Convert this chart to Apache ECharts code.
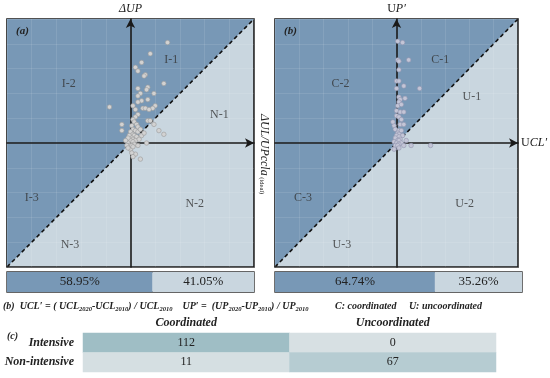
<!DOCTYPE html>
<html><head><meta charset="utf-8">
<script src="https://cdn.jsdelivr.net/npm/echarts@6/dist/echarts.min.js"></script>
<style>html,body{margin:0;padding:0;background:#fff}#c{width:550px;height:378px}</style>
</head><body><div id="c"></div>
<script>
// ---- data ----
const pointsA = [
 [30,81],[16,72],[9,65],[4,61],[6,58],[12,55],[11,54],[27,48],[14,45],[13,43],[6,44],[19,40],[8,40],[6,38],
 [14,35],[9,34],[6,33],[-17,29],[20,30],[18,28],[10,28],[12,28],[15,27],[4,27],[2,30],[6,23],[4,21],[14,18],
 [16,18],[19,15],[-7,15],[-7,10],[23,10],[27,7],[13,0],[4,-9],[8,-13],[0,-5],[1,-8],[2,-11],
 [2,19],[3,17],[5,15],[1,14],[6,13],[2,11],[4,10],[0,9],[6,9],[2,7],[3,6],[-1,6],[5,5],[1,4],[2,3],[-2,2],
 [4,2],[0,2],[2,1],[-2,0],[3,-1],[-1,-2],[1,-2],[-3,-2],[2,-3],[-2,-4],[6,-2],[7,3],[9,6],[11,8],[8,11],[-2,4],[-4,2]
];
const pointsB = [
 [1,82],[5,81],[1,67],[2,66],[10,67],[2,59],[0,50],[2,50],[6,46],[19,44],[0,44],[2,37],[3,35],[7,36],[2,33],
 [1,30],[4,31],[0,26],[3,25],[6,25],[0,22],[2,21],[4,19],[-2,14],[3,15],[6,15],[-3,17],
 [-1,11],[2,10],[4,10],[1,8],[2,7],[0,6],[5,6],[2,5],[-1,4],[3,3],[1,2],[2,2],[-2,1],[0,0],[4,0],[2,-1],
 [-1,-2],[1,-2],[6,-2],[-2,-5],[2,-4],[12,-2],[28,-2],[8,2]
];
const regionLabelsA = [['I-1',33,67],['I-2',-50,48],['I-3',-80,-44],['N-1',72,23],['N-2',52,-49],['N-3',-49,-82]];
const regionLabelsB = [['C-1',36,67],['C-2',-46,48],['C-3',-77,-44],['U-1',62,37],['U-2',56,-49],['U-3',-45,-82]];
const shareA = [58.95, 41.05];
const shareB = [64.74, 35.26];
const rowCats = ['Intensive','Non-intensive'];
const colCats = ['Coordinated','Uncoordinated'];
const tableValues = [[112, 0],[11, 67]];
const diagonal = [[-100,-100],[100,100]];

// ---- styles ----
const SERIF = 'Liberation Serif';
const DARK = '#7898b6', LIGHT = '#c9d6df';
const cellColors = {112:'#9fbec5', 0:'#d7e0e3', 11:'#d5dfe2', 67:'#b6ccd2'};

function scatterAxes(gi){
  return {gridIndex:gi, type:'value', min:-100, max:100, interval:20, z:5,
    axisTick:{show:false}, axisLabel:{show:false},
    splitLine:{show:true, lineStyle:{color:'rgba(255,255,255,0.10)', width:1}}};
}
const axLine = {show:true, onZero:true, symbol:['none','arrow'], symbolSize:[7,9], lineStyle:{color:'#1a1a1a', width:1.6}};
const richNI = {n:{fontFamily:SERIF,fontSize:12,color:'#222'}, i:{fontFamily:SERIF,fontSize:12,fontStyle:'italic',color:'#222'}};
const xA = Object.assign(scatterAxes(0), {axisLine:axLine});
const yA = Object.assign(scatterAxes(0), {
  name:'ΔUP', nameLocation:'end', nameGap:4,
  nameTextStyle:{fontFamily:SERIF, fontStyle:'italic', fontSize:12, color:'#222', align:'center'},
  axisLine:axLine
});
const xB = Object.assign(scatterAxes(1), {
  name:'{n|U}{i|CL′}', nameLocation:'end', nameGap:3,
  nameTextStyle:{fontFamily:SERIF, fontSize:12, color:'#222', rich:richNI},
  axisLine:axLine
});
const yB = Object.assign(scatterAxes(1), {
  name:'{n|U}{i|P′}', nameLocation:'end', nameGap:4,
  nameTextStyle:{fontFamily:SERIF, fontSize:12, color:'#222', align:'center', rich:richNI},
  axisLine:axLine
});

function areaSeries(xi){
  return {type:'line', xAxisIndex:xi, yAxisIndex:xi, data:diagonal, symbol:'none', z:1, silent:true,
    lineStyle:{color:'#111', width:1.6, type:[4,3]},
    areaStyle:{color:DARK, opacity:1, origin:'end'}};
}
function labelSeries(xi, arr){
  return {type:'scatter', xAxisIndex:xi, yAxisIndex:xi, symbolSize:0, z:6, silent:true,
    data:arr.map(d=>({name:d[0], value:[d[1], d[2]]})),
    label:{show:true, position:'inside', formatter:'{b}', fontFamily:SERIF, fontSize:12, color:'#333'}};
}
function pointSeries(xi, arr, col, bor){
  return {type:'scatter', xAxisIndex:xi, yAxisIndex:xi, data:arr, symbolSize:4.5, z:10,
    itemStyle:{color:col, borderColor:bor, borderWidth:0.6, opacity:1}};
}
function barAxes(gi){
  return [{gridIndex:gi, type:'value', min:0, max:100, show:false},
          {gridIndex:gi, type:'category', data:['share'], show:false}];
}
function barSeries(xi, vals){
  const lab = {show:true, position:'inside', formatter:'{c}%', fontFamily:SERIF, fontSize:13, color:'#222'};
  return [
    {type:'bar', xAxisIndex:xi, yAxisIndex:xi, stack:'s'+xi, barWidth:'100%', data:[vals[0]], itemStyle:{color:DARK}, label:lab, silent:true},
    {type:'bar', xAxisIndex:xi, yAxisIndex:xi, stack:'s'+xi, barWidth:'100%', data:[vals[1]], itemStyle:{color:LIGHT}, label:lab, silent:true}
  ];
}
const ba = barAxes(2), bb = barAxes(3);
const heatData = [];
for (let r=0;r<rowCats.length;r++) for (let c=0;c<colCats.length;c++) heatData.push([c, r, tableValues[r][c]]);

const boldIt = {fontFamily:SERIF, fontWeight:'bold', fontStyle:'italic', fontSize:12, color:'#222'};

const option = {
  animation:false,
  backgroundColor:'#fff',
  grid:[
    {left:7, top:19, width:247, height:248, show:true, backgroundColor:LIGHT, borderColor:'#1a1a1a', borderWidth:1.6},
    {left:275, top:19, width:247, height:248, show:true, backgroundColor:LIGHT, borderColor:'#1a1a1a', borderWidth:1.6},
    {left:7, top:272, width:247, height:20, show:true, borderColor:'#333', borderWidth:1.4},
    {left:275, top:272, width:247, height:20, show:true, borderColor:'#333', borderWidth:1.4},
    {left:83, top:333, width:413, height:39}
  ],
  xAxis:[xA, xB, ba[0], bb[0],
    {gridIndex:4, type:'category', data:colCats, position:'top', axisLine:{show:false}, axisTick:{show:false},
     axisLabel:Object.assign({margin:4}, boldIt), splitLine:{show:false}}],
  yAxis:[yA, yB, ba[1], bb[1],
    {gridIndex:4, type:'category', data:rowCats, inverse:true, axisLine:{show:false}, axisTick:{show:false},
     axisLabel:Object.assign({margin:9}, boldIt), splitLine:{show:false}}],
  visualMap:{type:'piecewise', show:false, seriesIndex:10, dimension:2,
    pieces:Object.keys(cellColors).map(k=>({value:+k, color:cellColors[k]}))},
  series:[
    areaSeries(0), labelSeries(0, regionLabelsA), pointSeries(0, pointsA, '#d2d2d2', '#9a9a9a'),
    areaSeries(1), labelSeries(1, regionLabelsB), pointSeries(1, pointsB, '#c3c5d6', '#9296b0'),
    ...barSeries(2, shareA), ...barSeries(3, shareB),
    {type:'heatmap', xAxisIndex:4, yAxisIndex:4, data:heatData,
     label:{show:true, fontFamily:SERIF, fontSize:12, color:'#222'}, itemStyle:{borderWidth:0}}
  ],
  graphic:[
    {type:'text', left:16, top:26, z:20, style:{text:'(a)', font:'bold italic 11px "Liberation Serif"', fill:'#222'}},
    {type:'text', left:284, top:26, z:20, style:{text:'(b)', font:'bold italic 11px "Liberation Serif"', fill:'#222'}},
    {type:'text', x:264, y:114, rotation:-Math.PI/2, z:20, style:{
      text:'{m|ΔUL/UPccla}{s| (ideal)}', textVerticalAlign:'middle',
      rich:{m:{fontFamily:SERIF, fontStyle:'italic', fontSize:12, fill:'#222', lineHeight:12, verticalAlign:'bottom'},
            s:{fontFamily:SERIF, fontSize:6.5, fill:'#222', lineHeight:12, verticalAlign:'bottom'}}}},
    {type:'text', x:3, y:300, z:20, style:{
      text:'{b|(b)  UCL′ = ( UCL}{s|2020}{b|-UCL}{s|2010}{b|) / UCL}{s|2010}{b|    UP′ =  (UP}{s|2020}{b|-UP}{s|2010}{b|) / UP}{s|2010}',
      rich:{b:{fontFamily:SERIF, fontWeight:'bold', fontStyle:'italic', fontSize:10, fill:'#222', lineHeight:13, verticalAlign:'middle'},
            s:{fontFamily:SERIF, fontWeight:'bold', fontStyle:'italic', fontSize:6.5, fill:'#222', lineHeight:13, verticalAlign:'bottom', padding:[5,0,0,0]}}}},
    {type:'text', x:335, y:301, z:20, style:{text:'C: coordinated     U: uncoordinated', font:'bold italic 10px "Liberation Serif"', fill:'#222'}},
    {type:'text', x:7, y:331, z:20, style:{text:'(c)', font:'bold italic 10px "Liberation Serif"', fill:'#222'}}
  ]
};
const chart = echarts.init(document.getElementById('c'), null, {renderer:'canvas'});
chart.setOption(option);
</script></body></html>
